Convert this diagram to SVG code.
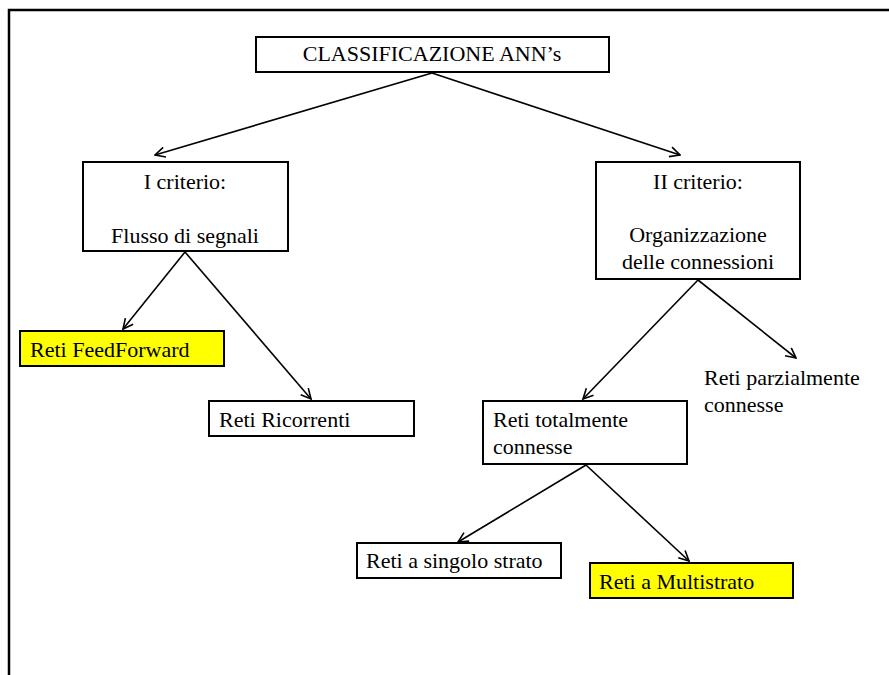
<svg xmlns="http://www.w3.org/2000/svg" width="889" height="675" viewBox="0 0 889 675">
  <style>
    .box { fill: #ffffff; stroke: #000000; stroke-width: 2; }
    .hl { fill: #ffff00; stroke: #000000; stroke-width: 2; }
    .frame { fill: none; stroke: #000000; stroke-width: 2.5; }
    .lbl { font-family: "Liberation Serif", "Times New Roman", serif; font-size: 22px; fill: #000000; }
    .mid { text-anchor: middle; }
    .conn line { stroke: #000000; stroke-width: 1.6; marker-end: url(#arrow); }
  </style>
  <defs>
    <marker id="arrow" viewBox="0 0 12 12" refX="11" refY="6" markerWidth="12" markerHeight="12" markerUnits="userSpaceOnUse" orient="auto">
      <path d="M1,1 L11,6 L1,11" fill="none" stroke="#000000" stroke-width="1.6"/>
    </marker>
  </defs>

  <rect width="889" height="675" fill="#ffffff"/>
  <!-- page frame -->
  <path class="frame" d="M9,675 V10 H889"/>

  <g id="connectors" class="conn">
    <line x1="432" y1="73" x2="155" y2="155"/>
    <line x1="432" y1="73" x2="680" y2="155"/>
    <line x1="185" y1="252" x2="123" y2="329"/>
    <line x1="185" y1="252" x2="311" y2="399"/>
    <line x1="698" y1="280" x2="583" y2="399"/>
    <line x1="698" y1="280" x2="796" y2="358"/>
    <line x1="586" y1="465" x2="458" y2="542"/>
    <line x1="586" y1="465" x2="689" y2="561"/>
  </g>

  <g id="root">
    <rect class="box" x="256" y="37" width="353" height="35"/>
    <text class="lbl mid" x="432" y="61">CLASSIFICAZIONE ANN’s</text>
  </g>

  <g id="criterio1">
    <rect class="box" x="83" y="162" width="205" height="89"/>
    <text class="lbl mid" x="185" y="189">I criterio:</text>
    <text class="lbl mid" x="185" y="243">Flusso di segnali</text>
  </g>

  <g id="criterio2">
    <rect class="box" x="596" y="162" width="204" height="117"/>
    <text class="lbl mid" x="698" y="189">II criterio:</text>
    <text class="lbl mid" x="698" y="242">Organizzazione</text>
    <text class="lbl mid" x="698" y="269">delle connessioni</text>
  </g>

  <g id="feedforward">
    <rect class="hl" x="20" y="331" width="204" height="35"/>
    <text class="lbl" x="30" y="357">Reti FeedForward</text>
  </g>

  <g id="ricorrenti">
    <rect class="box" x="209" y="401" width="205" height="35"/>
    <text class="lbl" x="219" y="427">Reti Ricorrenti</text>
  </g>

  <g id="totalmente">
    <rect class="box" x="483" y="401" width="204" height="63"/>
    <text class="lbl" x="493" y="427">Reti totalmente</text>
    <text class="lbl" x="493" y="454">connesse</text>
  </g>

  <g id="parzialmente">
    <text class="lbl" x="704" y="385">Reti parzialmente</text>
    <text class="lbl" x="704" y="412">connesse</text>
  </g>

  <g id="singolo">
    <rect class="box" x="357" y="543" width="204" height="35"/>
    <text class="lbl" x="366" y="568">Reti a singolo strato</text>
  </g>

  <g id="multistrato">
    <rect class="hl" x="590" y="563" width="203" height="35"/>
    <text class="lbl" x="599" y="589">Reti a Multistrato</text>
  </g>
</svg>
